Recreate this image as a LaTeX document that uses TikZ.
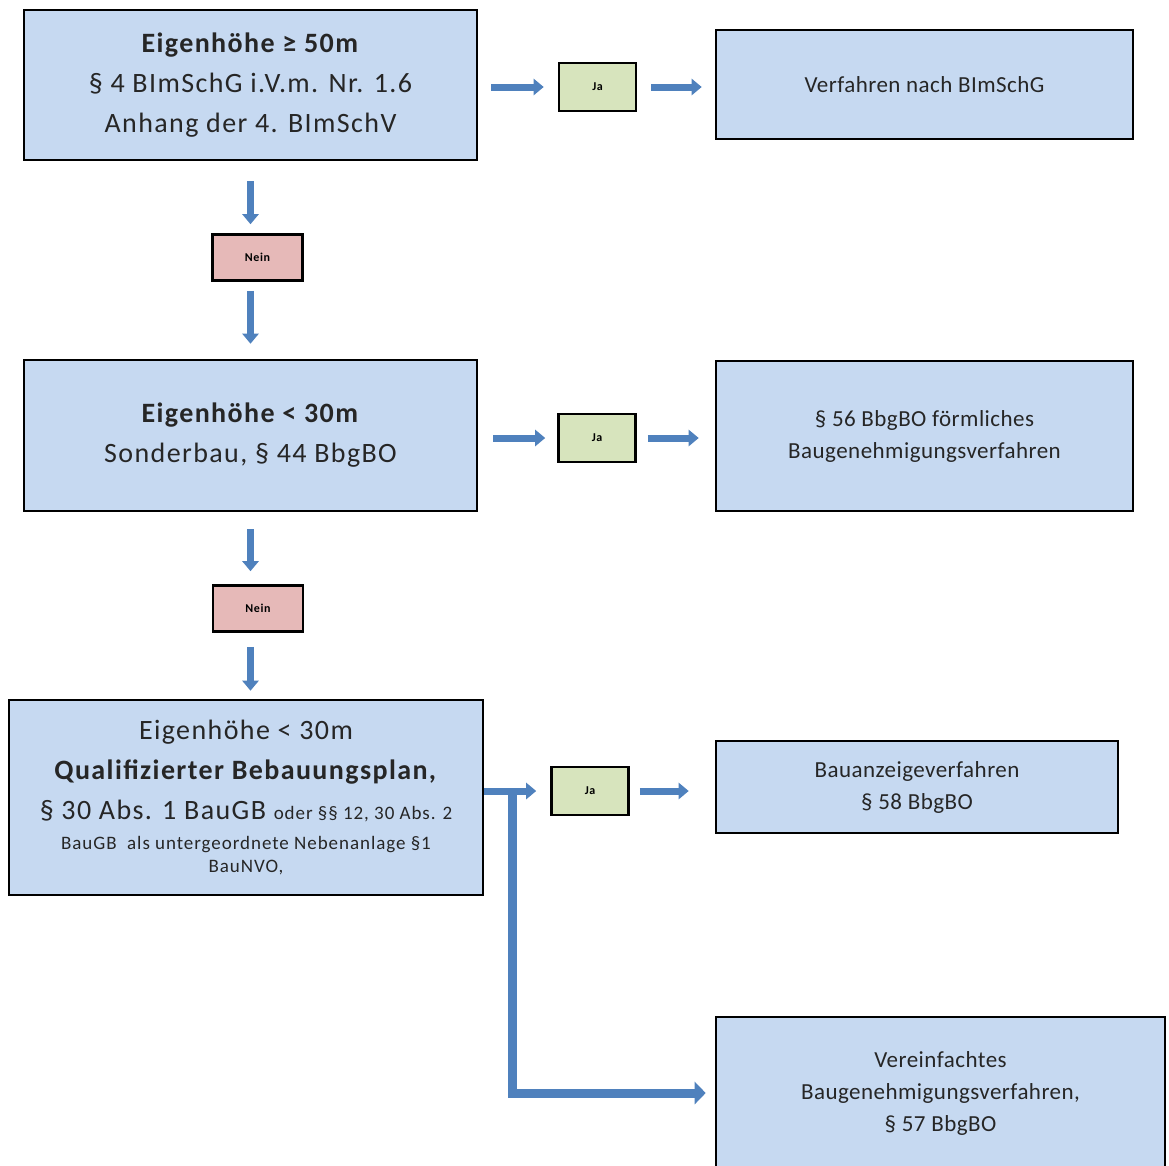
\documentclass[tikz,border=0pt]{standalone}
\usepackage{fontspec}
\setmainfont{Carlito}[LetterSpace=5]
\usetikzlibrary{arrows.meta}
\definecolor{boxblue}{HTML}{C6D9F1}
\definecolor{yesgreen}{HTML}{D7E4BD}
\definecolor{nored}{HTML}{E6B9B8}
\definecolor{arrowblue}{HTML}{4F81BD}
\definecolor{txt}{HTML}{262626}
\begin{document}
\begin{tikzpicture}[x=1pt,y=-1pt,
  bigbox/.style={draw=black, line width=2.6pt, fill=boxblue, inner sep=0pt,
    align=center, text=txt, font=\fontsize{28}{40}\selectfont},
  resultbox/.style={bigbox, font=\fontsize{23}{32}\selectfont\addfontfeature{LetterSpace=2}},
  yesbox/.style={draw=black, line width=2.6pt, fill=yesgreen, inner sep=0pt,
    minimum width=77pt, minimum height=48pt, font=\bfseries\fontsize{12}{14}\selectfont},
  nobox/.style={draw=black, line width=2.6pt, fill=nored, inner sep=0pt,
    minimum width=90pt, minimum height=46pt, font=\bfseries\fontsize{12}{14}\selectfont},
  arr/.style={draw=arrowblue, line width=7pt, -{Triangle[length=10pt,width=16pt]}},
  arrthick/.style={draw=arrowblue, line width=9pt, -{Triangle[length=11pt,width=22pt]}}
]
\clip (0,0) rectangle (1169,1165);
\fill[white] (0,0) rectangle (1169,1165);

% decision boxes
\node[bigbox, minimum width=453pt, minimum height=150pt] (b1) at (250.5,85)
  {\textbf{Eigenhöhe ≥ 50m}\\ § 4 BImSchG i.V.m. Nr. 1.6\\ Anhang der 4. BImSchV};
\node[bigbox, minimum width=453pt, minimum height=151pt] (b2) at (250.5,435.5)
  {\textbf{Eigenhöhe < 30m}\\ Sonderbau, § 44 BbgBO};
\node[bigbox, minimum width=474pt, minimum height=195pt] (b3) at (246,797.5)
  {Eigenhöhe < 30m\\
   \textbf{Qualifizierter Bebauungsplan,}\\
   § 30 Abs. 1 BauGB {\fontsize{19}{20}\selectfont oder §§ 12, 30 Abs. 2}\\[-10pt]
   {\fontsize{19}{20}\selectfont BauGB\ \ als untergeordnete Nebenanlage §1}\\[-17pt]
   {\fontsize{19}{20}\selectfont BauNVO,}};

% answer boxes
\node[yesbox] (j1) at (597.5,87) {Ja};
\node[yesbox] (j2) at (597,438) {Ja};
\node[yesbox] (j3) at (590,791) {Ja};
\node[nobox] (n1) at (257.5,257.5) {Nein};
\node[nobox] (n2) at (258,608.5) {Nein};

% procedures
\node[resultbox, minimum width=417pt, minimum height=109pt] (r1) at (924.5,84.5)
  {Verfahren nach BImSchG};
\node[resultbox, minimum width=417pt, minimum height=150pt] (r2) at (924.5,436)
  {§ 56 BbgBO förmliches\\ Baugenehmigungsverfahren};
\node[resultbox, minimum width=402pt, minimum height=92pt] (r3) at (917,787)
  {Bauanzeigeverfahren\\ § 58 BbgBO};
\node[resultbox, minimum width=449pt, minimum height=198pt] (r4) at (940.5,1116)
  {};
\node[font=\fontsize{23}{32}\selectfont\addfontfeature{LetterSpace=2}, text=txt, align=center] (r4t) at (940.5,1093)
  {Vereinfachtes\\ Baugenehmigungsverfahren,\\ § 57 BbgBO};

% connectors
\draw[arr, shorten <=13pt, shorten >=14pt] (b1.east |- j1) -- (j1.west);
\draw[arr, shorten <=14pt, shorten >=13pt] (j1.east) -- (r1.west |- j1);
\draw[arr, shorten <=20pt, shorten >=9pt] (b1.south) -- (n1.north -| b1.south);
\draw[arr, shorten <=9pt, shorten >=15pt] (n1.south -| b1.south) -- (b2.north);

\draw[arr, shorten <=15pt, shorten >=12pt] (b2.east |- j2) -- (j2.west);
\draw[arr, shorten <=11pt, shorten >=16pt] (j2.east) -- (r2.west |- j2);
\draw[arr, shorten <=17pt, shorten >=13pt] (b2.south) -- (n2.north -| b2.south);
\draw[arr, shorten <=14pt, shorten >=8pt] (n2.south -| b2.south) -- (b3.north -| b2.south);

\coordinate (split) at (512,791);
\coordinate (turn) at (512,1093);
\draw[arr, shorten >=14pt] (b3.east |- j3) -- (j3.west);
\draw[arr, shorten <=10pt, shorten >=26pt] (j3.east) -- (r3.west |- j3);
\draw[arrthick, shorten >=9pt] (split) -- (turn) -- (turn -| r4.west);
\end{tikzpicture}
\end{document}
